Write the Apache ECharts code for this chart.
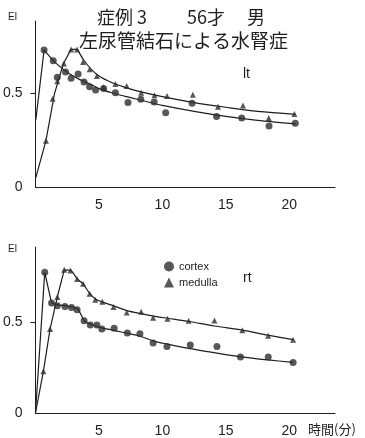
<!DOCTYPE html>
<html>
<head>
<meta charset="utf-8">
<script src="https://cdn.jsdelivr.net/npm/echarts@6/dist/echarts.min.js"></script>
<style>
  html, body { margin: 0; padding: 0; background: #fff; }
  #chart { width: 365px; height: 438px; }
</style>
</head>
<body>
<div id="chart"></div>
<script>
// time (min), EI  -- left kidney (lt)
var ltCortex = [[0.68,0.734],[1.4,0.676],[1.72,0.588],[2.37,0.616],[2.81,0.582],[3.36,0.605],[3.83,0.562],[4.27,0.537],[4.74,0.52],[5.37,0.527],[6.3,0.505],[7.29,0.452],[8.3,0.47],[9.35,0.455],[10.26,0.398],[12.34,0.448],[14.27,0.377],[16.25,0.37],[18.4,0.327],[20.47,0.341]];
var ltMedulla = [[0.83,0.248],[1.35,0.473],[1.72,0.566],[2.24,0.662],[2.81,0.737],[3.28,0.737],[3.75,0.67],[4.27,0.63],[4.84,0.595],[5.37,0.534],[6.3,0.552],[7.19,0.541],[8.33,0.505],[9.38,0.491],[10.37,0.487],[12.4,0.494],[14.38,0.43],[16.35,0.437],[18.38,0.37],[20.4,0.391]];
var ltCortexFit = [[0.03,0.36],[0.68,0.734],[1.5,0.67],[2.5,0.615],[3.5,0.575],[4.5,0.545],[5,0.527],[6,0.505],[7,0.487],[8,0.47],[10,0.437],[12.5,0.405],[15,0.378],[17.5,0.357],[20.5,0.338]];
var ltMedullaFit = [[0.03,0.05],[0.83,0.25],[1.5,0.5],[2.2,0.66],[2.8,0.737],[3.3,0.737],[3.8,0.68],[4.4,0.63],[5,0.595],[6,0.56],[7,0.535],[8,0.515],[10,0.484],[12.5,0.452],[15,0.427],[17.5,0.405],[20.5,0.389]];

// right kidney (rt)
var rtCortex = [[0.73,0.776],[1.27,0.607],[1.72,0.592],[2.32,0.588],[2.84,0.582],[3.28,0.57],[3.83,0.509],[4.32,0.485],[4.84,0.485],[5.23,0.463],[6.2,0.467],[7.24,0.441],[8.23,0.437],[9.27,0.386],[10.36,0.367],[12.2,0.375],[14.3,0.367],[16.15,0.309],[18.34,0.309],[20.3,0.279]];
var rtMedulla = [[0.625,0.23],[1.15,0.463],[1.72,0.64],[2.27,0.79],[2.76,0.787],[3.28,0.739],[3.75,0.713],[4.27,0.658],[4.71,0.625],[5.26,0.614],[6.15,0.585],[7.19,0.555],[8.33,0.559],[9.27,0.526],[10.4,0.52],[12.07,0.509],[14.1,0.511],[16.3,0.456],[18.33,0.426],[20.3,0.404]];
var rtCortexFit = [[0,0],[0.73,0.776],[1.27,0.607],[1.72,0.597],[2.5,0.59],[3.3,0.575],[3.85,0.51],[4.4,0.488],[5.2,0.47],[6.2,0.456],[7.2,0.44],[8.2,0.425],[9.3,0.397],[10.4,0.38],[12.2,0.355],[14.3,0.33],[16.2,0.31],[18.3,0.293],[20.3,0.279]];
var rtMedullaFit = [[0,0],[0.625,0.23],[1.15,0.463],[1.72,0.64],[2.27,0.79],[2.76,0.787],[3.3,0.74],[3.75,0.713],[4.27,0.66],[4.75,0.628],[5.3,0.612],[6.2,0.59],[7.2,0.565],[8.3,0.548],[9.3,0.535],[10.4,0.523],[12.1,0.505],[14.1,0.48],[16.3,0.457],[18.3,0.43],[20.3,0.405]];

var xTicks = [5, 10, 15, 20];
var yTicks = [0, 0.5];

var ink = '#1e1e1e';
var font = '"Liberation Sans", Arial, sans-serif';
var jp = '"Noto Sans CJK JP", sans-serif';

function xAxisOf(i) {
    return {
        type: 'value', gridIndex: i, min: 0, max: 23.6, interval: 5,
        axisLine: { lineStyle: { color: ink, width: 1 } },
        axisTick: { show: false },
        splitLine: { show: false },
        axisLabel: {
            color: ink, fontSize: 14, fontFamily: font, margin: 11,
            formatter: function (v) { return xTicks.indexOf(v) >= 0 ? String(v) : ''; }
        }
    };
}
function yAxisOf(i, max) {
    return {
        type: 'value', gridIndex: i, min: 0, max: max, interval: 0.5,
        axisLine: { show: true, lineStyle: { color: ink, width: 1 } },
        axisTick: { show: true, length: 5, customValues: [0.5], lineStyle: { color: ink } },
        splitLine: { show: false },
        axisLabel: {
            color: ink, fontSize: 14, fontFamily: font, margin: 13,
            customValues: yTicks,
            formatter: function (v) { return v === 0 ? '0' : String(v); }
        }
    };
}
function dots(name, data, i, sym) {
    return {
        name: name, type: 'scatter', xAxisIndex: i, yAxisIndex: i, data: data,
        symbol: sym, symbolSize: sym === 'circle' ? 7 : 6,
        itemStyle: { color: '#2e2e2e' }, z: 3
    };
}
// straight rise up to the peak, smooth decay after it
function fit(data, i, peak) {
    var base = {
        name: 'fit', type: 'line', xAxisIndex: i, yAxisIndex: i,
        showSymbol: false, symbol: 'none',
        lineStyle: { color: ink, width: 1.2 }, z: 2
    };
    return [
        Object.assign({}, base, { data: data.slice(0, peak + 1), smooth: false }),
        Object.assign({}, base, { data: data.slice(peak), smooth: 0.3 })
    ];
}

var chart = echarts.init(document.getElementById('chart'));
chart.setOption({
    animation: false,
    backgroundColor: '#fff',
    grid: [
        { left: 33, top: 21, width: 302, height: 166 },
        { left: 33, top: 247, width: 302, height: 166 }
    ],
    xAxis: [xAxisOf(0), xAxisOf(1)],
    yAxis: [yAxisOf(0, 0.889), yAxisOf(1, 0.916)],
    legend: {
        left: 159, top: 256, orient: 'vertical', itemGap: 5,
        itemWidth: 10, itemHeight: 10, selectedMode: false,
        textStyle: { color: ink, fontSize: 11, fontFamily: font },
        data: [{ name: 'cortex', icon: 'circle' }, { name: 'medulla', icon: 'triangle' }]
    },
    graphic: [
        { type: 'text', left: 97, top: 8, style: { text: '症例 3', fontSize: 18, fontFamily: jp, fill: ink } },
        { type: 'text', left: 187, top: 8, style: { text: '56才', fontSize: 18, fontFamily: jp, fill: ink } },
        { type: 'text', left: 247, top: 8, style: { text: '男', fontSize: 18, fontFamily: jp, fill: ink } },
        { type: 'text', left: 79, top: 31, style: { text: '左尿管結石による水腎症', fontSize: 19, fontFamily: jp, fill: ink } },
        { type: 'text', left: 8, top: 12, style: { text: 'El', fontSize: 10, fontFamily: font, fill: ink } },
        { type: 'text', left: 8, top: 244, style: { text: 'El', fontSize: 10, fontFamily: font, fill: ink } },
        { type: 'text', left: 243, top: 67, style: { text: 'lt', fontSize: 14, fontFamily: font, fill: ink } },
        { type: 'text', left: 243, top: 271, style: { text: 'rt', fontSize: 14, fontFamily: font, fill: ink } },
        { type: 'text', left: 308, top: 423, style: { text: '時間(分)', fontSize: 13, fontFamily: jp, fill: ink } }
    ],
    series: [].concat(
        fit(ltCortexFit, 0, 1), fit(ltMedullaFit, 0, 5),
        [dots('cortex', ltCortex, 0, 'circle'), dots('medulla', ltMedulla, 0, 'triangle')],
        fit(rtCortexFit, 1, 2), fit(rtMedullaFit, 1, 4),
        [dots('cortex', rtCortex, 1, 'circle'), dots('medulla', rtMedulla, 1, 'triangle')]
    )
});
</script>
</body>
</html>
